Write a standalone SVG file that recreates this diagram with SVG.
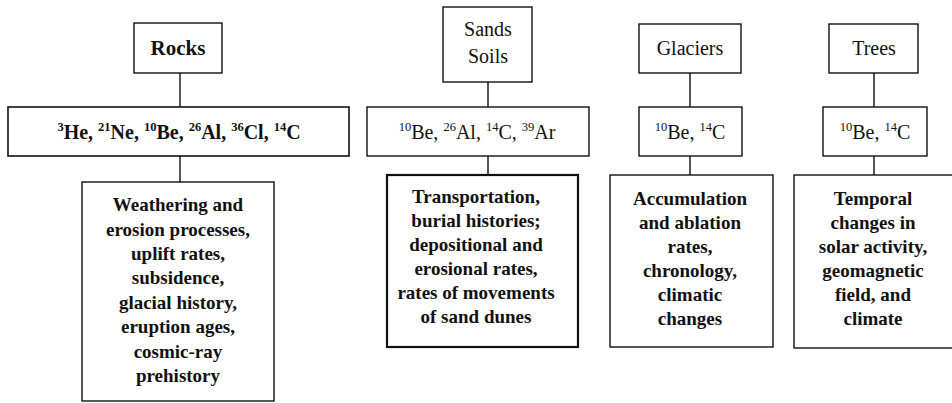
<svg xmlns="http://www.w3.org/2000/svg" width="952" height="403" viewBox="0 0 952 403">
<style>
rect{fill:#fff;stroke:#111;stroke-width:1.4}
.thick{stroke-width:2.2}
.conn line{stroke:#111;stroke-width:1.4}
text{font-family:'Liberation Serif','DejaVu Serif',serif;fill:#111;text-anchor:middle}
.b{font-weight:bold}
.lbl{font-size:20px}
.iso{font-size:20px}
.desc{font-size:19px;font-weight:bold}
.sup{font-size:12.5px}
</style>
<rect width="952" height="403" style="fill:#fff;stroke:none"/>
<g class="conn" id="connectors">
<line x1="180" y1="73" x2="180" y2="107"/>
<line x1="180" y1="156" x2="180" y2="182"/>
<line x1="488" y1="82" x2="488" y2="107"/>
<line x1="488" y1="156" x2="488" y2="175"/>
<line x1="690" y1="73" x2="690" y2="107"/>
<line x1="690" y1="156" x2="690" y2="175"/>
<line x1="874" y1="73" x2="874" y2="107"/>
<line x1="874" y1="156" x2="874" y2="175"/>
</g>
<g id="rocks">
<rect x="134" y="23" width="88" height="50"/>
<text x="178" y="55" class="b" style="font-size:21px">Rocks</text>
</g>
<g id="rocks-iso">
<rect x="8" y="107" width="341" height="49" style="stroke-width:1.6"/>
<text x="179" y="139" class="iso b"><tspan class="sup" dy="-8">3</tspan><tspan dy="8">He, </tspan><tspan class="sup" dy="-8">21</tspan><tspan dy="8">Ne, </tspan><tspan class="sup" dy="-8">10</tspan><tspan dy="8">Be, </tspan><tspan class="sup" dy="-8">26</tspan><tspan dy="8">Al, </tspan><tspan class="sup" dy="-8">36</tspan><tspan dy="8">Cl, </tspan><tspan class="sup" dy="-8">14</tspan><tspan dy="8">C</tspan></text>
</g>
<g id="rocks-desc">
<rect x="82" y="182" width="192" height="219"/>
<text class="desc" x="178" y="211">Weathering and</text>
<text class="desc" x="178" y="235.5">erosion processes,</text>
<text class="desc" x="178" y="260">uplift rates,</text>
<text class="desc" x="178" y="284">subsidence,</text>
<text class="desc" x="178" y="308.5">glacial history,</text>
<text class="desc" x="178" y="333">eruption ages,</text>
<text class="desc" x="178" y="357.5">cosmic-ray</text>
<text class="desc" x="178" y="382">prehistory</text>
</g>
<g id="sands">
<rect x="443" y="7" width="89" height="75"/>
<text x="488" y="36" class="lbl">Sands</text>
<text x="488" y="63" class="lbl">Soils</text>
</g>
<g id="sands-iso">
<rect x="367" y="107" width="222" height="49"/>
<text x="477" y="139" class="iso"><tspan class="sup" dy="-8">10</tspan><tspan dy="8">Be, </tspan><tspan class="sup" dy="-8">26</tspan><tspan dy="8">Al, </tspan><tspan class="sup" dy="-8">14</tspan><tspan dy="8">C, </tspan><tspan class="sup" dy="-8">39</tspan><tspan dy="8">Ar</tspan></text>
</g>
<g id="sands-desc">
<rect x="387" y="175" width="191" height="172" class="thick"/>
<text class="desc" x="476" y="203">Transportation,</text>
<text class="desc" x="476" y="227">burial histories;</text>
<text class="desc" x="476" y="251">depositional and</text>
<text class="desc" x="476" y="275">erosional rates,</text>
<text class="desc" x="476" y="299">rates of movements</text>
<text class="desc" x="476" y="323">of sand dunes</text>
</g>
<g id="glaciers">
<rect x="639" y="24" width="102" height="49"/>
<text x="690" y="55" class="lbl">Glaciers</text>
</g>
<g id="glaciers-iso">
<rect x="639" y="107" width="103" height="49"/>
<text x="690" y="139" class="iso"><tspan class="sup" dy="-8">10</tspan><tspan dy="8">Be, </tspan><tspan class="sup" dy="-8">14</tspan><tspan dy="8">C</tspan></text>
</g>
<g id="glaciers-desc">
<rect x="610" y="175" width="163" height="172"/>
<text class="desc" x="690" y="205">Accumulation</text>
<text class="desc" x="690" y="229">and ablation</text>
<text class="desc" x="690" y="253">rates,</text>
<text class="desc" x="690" y="277">chronology,</text>
<text class="desc" x="690" y="301">climatic</text>
<text class="desc" x="690" y="325">changes</text>
</g>
<g id="trees">
<rect x="829" y="24" width="89" height="49"/>
<text x="874" y="55" class="lbl">Trees</text>
</g>
<g id="trees-iso">
<rect x="823" y="107" width="104" height="49"/>
<text x="875" y="139" class="iso"><tspan class="sup" dy="-8">10</tspan><tspan dy="8">Be, </tspan><tspan class="sup" dy="-8">14</tspan><tspan dy="8">C</tspan></text>
</g>
<g id="trees-desc">
<rect x="794" y="175" width="170" height="173"/>
<text class="desc" x="873" y="205">Temporal</text>
<text class="desc" x="873" y="229">changes in</text>
<text class="desc" x="873" y="253">solar activity,</text>
<text class="desc" x="873" y="277">geomagnetic</text>
<text class="desc" x="873" y="301">field, and</text>
<text class="desc" x="873" y="325">climate</text>
</g>
</svg>
